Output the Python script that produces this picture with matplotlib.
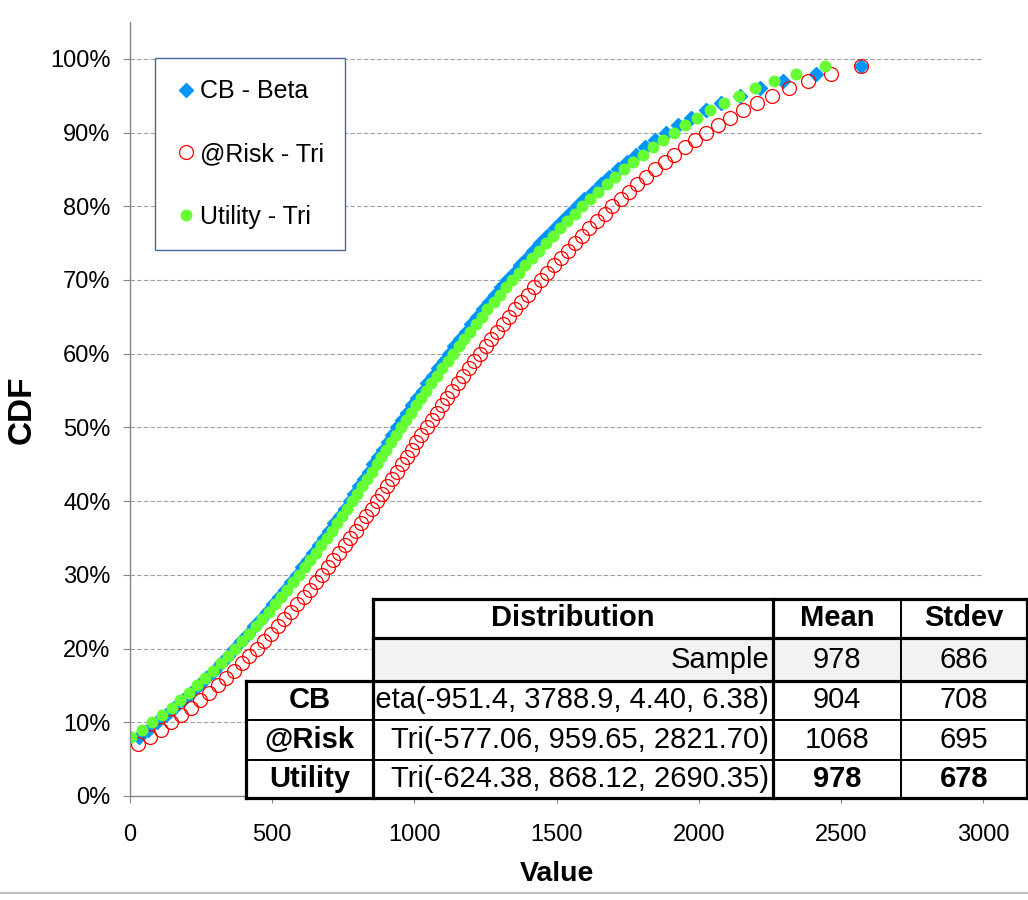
import matplotlib
matplotlib.use('Agg')
import matplotlib.pyplot as plt
from matplotlib.patches import Rectangle
from matplotlib.transforms import Bbox, TransformedBbox

plt.rcParams['font.family'] = ['Liberation Sans', 'DejaVu Sans']

# CDF levels (%) and the values
pct = [7, 8, 9, 10, 11, 12, 13, 14, 15, 16, 17, 18, 19, 20, 21, 22, 23, 24, 25,
       26, 27, 28, 29, 30, 31, 32, 33, 34, 35, 36, 37, 38, 39, 40, 41, 42, 43,
       44, 45, 46, 47, 48, 49, 50, 51, 52, 53, 54, 55, 56, 57, 58, 59, 60, 61,
       62, 63, 64, 65, 66, 67, 68, 69, 70, 71, 72, 73, 74, 75, 76, 77, 78, 79,
       80, 81, 82, 83, 84, 85, 86, 87, 88, 89, 90, 91, 92, 93, 94, 95, 96, 97,
       98, 99]

risk_x = [27.6, 69.3, 108.6, 145.6, 180.9, 214.6, 246.9, 278.0, 308.1, 337.1,
          365.2, 392.5, 419.1, 445.0, 470.2, 494.9, 519.0, 542.5, 565.6, 588.3,
          610.5, 632.2, 653.6, 674.7, 695.4, 715.7, 735.8, 755.5, 775.0, 794.2,
          813.1, 831.7, 850.2, 868.3, 886.3, 904.0, 921.6, 938.9, 956.0, 973.1,
          990.3, 1007.6, 1025.1, 1042.8, 1060.7, 1078.8, 1097.0, 1115.5, 1134.1,
          1153.0, 1172.1, 1191.4, 1210.9, 1230.6, 1250.7, 1270.9, 1291.5, 1312.3,
          1333.4, 1354.8, 1376.5, 1398.6, 1421.0, 1443.8, 1467.0, 1490.5, 1514.5,
          1539.0, 1563.9, 1589.3, 1615.2, 1641.7, 1668.9, 1696.7, 1725.1, 1754.4,
          1784.5, 1815.4, 1847.4, 1880.4, 1914.7, 1950.2, 1987.3, 2026.2, 2067.0,
          2110.2, 2156.1, 2205.5, 2259.2, 2318.6, 2386.0, 2465.9, 2570.1]

util_x = [4.7, 42.9, 79.0, 113.3, 146.1, 177.6, 207.9, 237.1, 265.3, 292.7,
          319.3, 345.1, 370.3, 394.9, 418.9, 442.3, 465.3, 487.7, 509.8, 531.4,
          552.6, 573.4, 593.9, 614.0, 633.8, 653.4, 672.6, 691.5, 710.2, 728.6,
          746.7, 764.7, 782.4, 799.8, 817.1, 834.2, 851.0, 867.7, 884.3, 901.1,
          918.1, 935.2, 952.5, 970.0, 987.6, 1005.5, 1023.5, 1041.7, 1060.1,
          1078.7, 1097.6, 1116.7, 1136.0, 1155.5, 1175.3, 1195.4, 1215.7, 1236.4,
          1257.3, 1278.5, 1300.1, 1322.0, 1344.2, 1366.9, 1389.9, 1413.3, 1437.2,
          1461.5, 1486.3, 1511.7, 1537.6, 1564.1, 1591.2, 1619.1, 1647.6, 1677.0,
          1707.3, 1738.5, 1770.8, 1804.2, 1839.0, 1875.2, 1913.2, 1953.0, 1995.2,
          2040.1, 2088.4, 2140.8, 2198.8, 2264.7, 2342.8, 2444.6]

cb_x = [33, 63, 94, 125, 156, 186, 214, 242, 268, 295, 319, 344, 367, 391, 414,
        437, 459, 482, 503, 524, 545, 565, 586, 605, 625, 644, 663, 681, 700, 719,
        737, 755, 772, 789, 806, 823, 840, 856, 872, 889, 906, 923, 940, 957, 975,
        992, 1010, 1029, 1046, 1065, 1084, 1103, 1122, 1141, 1160, 1180, 1201,
        1220, 1241, 1262, 1284, 1305, 1327, 1350, 1372, 1395, 1419, 1442, 1467,
        1493, 1518, 1544, 1571, 1598, 1627, 1655, 1685, 1715, 1747, 1779, 1813,
        1848, 1886, 1929, 1973, 2025, 2080, 2144, 2214, 2296, 2414, 2572]

# summary table
col_head = ['Distribution', 'Mean', 'Stdev']
row_names = ['', 'CB', '@Risk', 'Utility']
dists = ['Sample', 'Beta(-951.4, 3788.9, 4.40, 6.38)',
         'Tri(-577.06, 959.65, 2821.70)', 'Tri(-624.38, 868.12, 2690.35)']
means = [978, 904, 1068, 978]
stdevs = [686, 708, 695, 678]

BLUE = '#0096FF'
RED = '#FF0000'
GREEN = '#66FF33'
AXC = '#868686'

fig = plt.figure(figsize=(10.28, 9), dpi=100)
W, H = 1028, 900
ax = fig.add_axes([130 / W, (H - 796) / H, 853 / W, 774 / H])

ax.plot(cb_x, pct[1:], ls='none', marker='D', ms=7.4, color=BLUE, label='CB - Beta')
ax.plot(risk_x, pct, ls='none', marker='o', ms=10, mfc='none', mec=RED, mew=0.9,
        label='@Risk - Tri')
ax.plot(util_x, pct[1:], ls='none', marker='o', ms=7.6, color=GREEN,
        label='Utility - Tri')

ax.set_xlim(0, 3000)
ax.set_ylim(0, 105)
ax.set_xticks(range(0, 3001, 500))
ax.set_yticks(range(0, 101, 10))
ax.set_yticklabels([f'{v}%' for v in range(0, 101, 10)])
ax.yaxis.grid(True, color='#a0a0a0', linestyle=(0, (4, 2)), lw=0.8)
ax.set_axisbelow(True)
for s in ['top', 'right']:
    ax.spines[s].set_visible(False)
for s in ['left', 'bottom']:
    ax.spines[s].set_color(AXC)
    ax.spines[s].set_linewidth(1.0)
ax.tick_params(axis='y', length=5, width=0.8, color=AXC, pad=9, labelsize=17)
ax.tick_params(axis='x', length=5, width=0.8, color=AXC, pad=15, labelsize=17)

leg = ax.legend(loc='upper left', bbox_to_anchor=(155 / W, 1 - 58 / H),
                bbox_transform=fig.transFigure, borderaxespad=0, fontsize=18,
                labelspacing=1.55, borderpad=0.85, handlelength=0.75,
                handletextpad=0.2, fancybox=False, framealpha=1)
leg.get_frame().set_edgecolor('#4a6a94')
leg.get_frame().set_linewidth(1.0)

# overlay in pixel coordinates for table and labels
ov = fig.add_axes([0, 0, 1, 1])
ov.set_xlim(0, W)
ov.set_ylim(H, 0)
ov.axis('off')
ov.set_zorder(5)

ov.text(22, 410, 'CDF', rotation=90, fontsize=24, weight='bold',
        ha='center', va='center')
ov.text(557, 874, 'Value', fontsize=20.5, weight='bold', ha='center', va='center')
ov.plot([0, W], [893, 893], color='#bfbfbf', lw=1.5)

cx = [246, 373, 773, 901, 1027]
ry = [599, 638, 681, 720, 760, 798]
TFS = 21

# cell backgrounds
for r in range(5):
    for c in range(4):
        if c == 0 and r < 2:
            continue
        fc = '#f2f2f2' if (r == 1 and c > 0) else 'white'
        ov.add_patch(Rectangle((cx[c], ry[r]), cx[c + 1] - cx[c], ry[r + 1] - ry[r],
                               facecolor=fc, edgecolor='black', lw=1.4))

def hline(y, x0, x1, lw):
    ov.plot([x0, x1], [y, y], color='black', lw=lw, solid_capstyle='projecting')

def vline(x, y0, y1, lw):
    ov.plot([x, x], [y0, y1], color='black', lw=lw, solid_capstyle='projecting')

thick = 2.3
hline(ry[0], cx[1], cx[4], thick)
hline(ry[1], cx[1], cx[4], thick)
hline(ry[2], cx[0], cx[4], thick)
hline(ry[5], cx[0], cx[4], thick)
vline(cx[0], ry[2], ry[5], thick)
vline(cx[1], ry[0], ry[5], thick)
vline(cx[2], ry[0], ry[5], thick)
vline(cx[4], ry[0], ry[5], thick)

def mid(a, b):
    return (a + b) / 2

for c, txt in enumerate(col_head):
    ov.text(mid(cx[c + 1], cx[c + 2]), mid(ry[0], ry[1]), txt, fontsize=TFS,
            weight='bold', ha='center', va='center')

for i in range(4):
    r = i + 1
    yc = mid(ry[r], ry[r + 1])
    if row_names[i]:
        ov.text(mid(cx[0], cx[1]), yc, row_names[i], fontsize=TFS, weight='bold',
                ha='center', va='center')
    t = ov.text(cx[2] - 4, yc, dists[i], fontsize=TFS, ha='right', va='center')
    t.set_clip_box(TransformedBbox(Bbox([[cx[1] + 1, ry[r]], [cx[2], ry[r + 1]]]),
                                   ov.transData))
    t.set_clip_on(True)
    wt = 'bold' if row_names[i] == 'Utility' else 'normal'
    ov.text(mid(cx[2], cx[3]), yc, str(means[i]), fontsize=TFS, weight=wt,
            ha='center', va='center')
    ov.text(mid(cx[3], cx[4]), yc, str(stdevs[i]), fontsize=TFS, weight=wt,
            ha='center', va='center')

fig.savefig('out.png', dpi=100, facecolor='white')
